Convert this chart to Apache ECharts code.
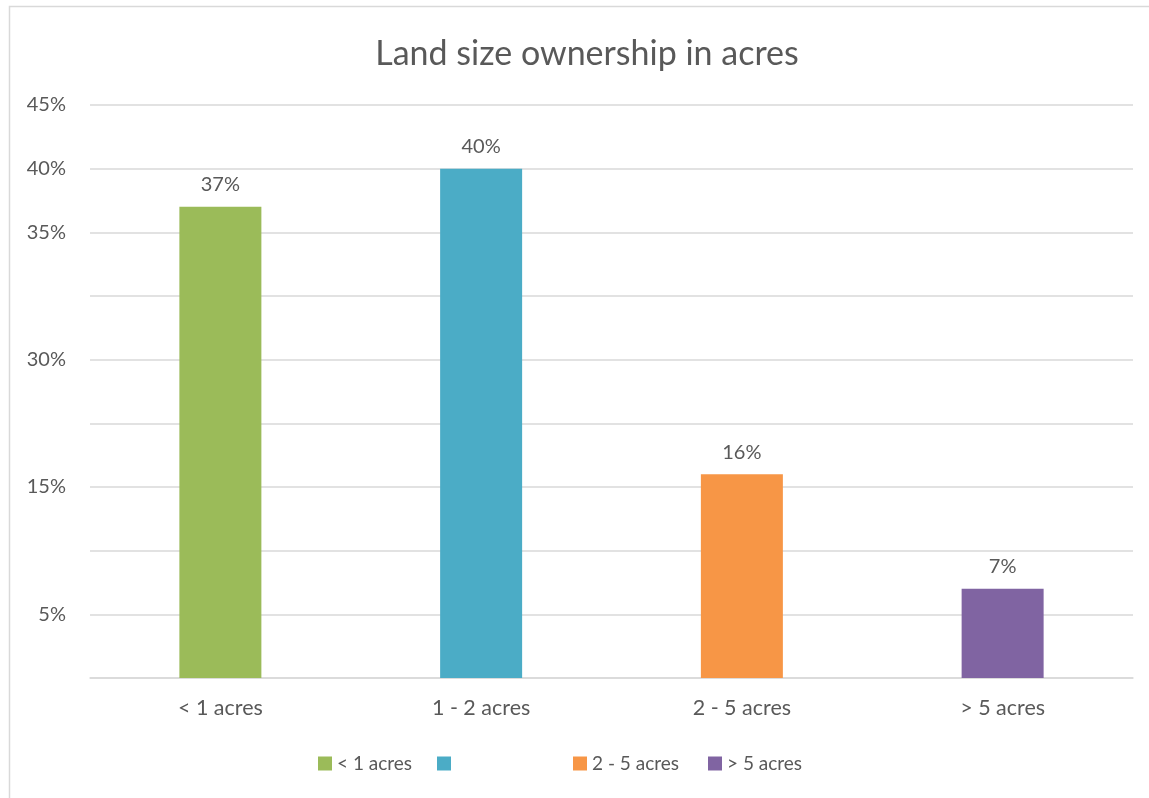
<!DOCTYPE html>
<html>
<head>
<meta charset="utf-8">
<script src="https://cdn.jsdelivr.net/npm/echarts@6/dist/echarts.min.js"></script>
<style>
  html, body { margin: 0; padding: 0; background: #ffffff; }
  #chart { width: 1149px; height: 798px; }
</style>
</head>
<body>
<div id="chart"></div>
<script>
// Land size groups and the share of owners in each
const categories = ['< 1 acres', '1 - 2 acres', '2 - 5 acres', '> 5 acres'];
const shares = [37, 40, 16, 7];
const legendNames = ['< 1 acres', ' ', '2 - 5 acres', '> 5 acres'];
const barColors = ['#9bbb59', '#4bacc6', '#f79646', '#8064a2'];
// Labels printed on the value axis, one per 5% step from 0 to 45
const yTickLabels = ['', '5%', '', '15%', '', '30%', '', '35%', '40%', '45%'];

const FONT = 'Lato, "Open Sans", sans-serif';
const TEXT = '#595959';
const GRID = '#d9d9d9';

const chart = echarts.init(document.getElementById('chart'), null, { renderer: 'canvas' });

// One series per group so each group gets its own legend entry; stacking keeps bars centred
const series = categories.map((cat, i) => ({
  name: legendNames[i],
  type: 'bar',
  stack: 'all',
  barWidth: 82,
  itemStyle: { color: barColors[i] },
  data: categories.map((c, j) => (j === i ? shares[i] : null)),
  label: {
    show: true,
    position: 'top',
    distance: 12,
    formatter: '{c}%',
    color: TEXT,
    fontFamily: FONT,
    fontSize: 20
  }
}));

const legendLefts = [318, 437, 573, 708];
const legends = legendNames.map((n, i) => ({
  data: [n],
  left: legendLefts[i],
  top: 754,
  padding: 0,
  itemWidth: 14,
  itemHeight: 14,
  itemGap: 0,
  icon: 'rect',
  textStyle: { color: TEXT, fontFamily: FONT, fontSize: 19 },
  selectedMode: false
}));

chart.setOption({
  animation: false,
  backgroundColor: '#ffffff',
  title: {
    text: 'Land size ownership in acres',
    left: 582,
    top: 32,
    textAlign: 'center',
    textStyle: { color: TEXT, fontFamily: FONT, fontSize: 34, fontWeight: 'normal' }
  },
  graphic: [{
    type: 'rect',
    shape: { x: 9.5, y: 6.5, width: 1200, height: 900 },
    style: { fill: 'none', stroke: GRID, lineWidth: 1.5 },
    silent: true
  }],
  legend: legends,
  grid: { left: 90, right: 16, top: 105, bottom: 120 },
  xAxis: {
    type: 'category',
    data: categories,
    axisLine: { lineStyle: { color: GRID, width: 1.5 } },
    axisTick: { show: false },
    axisLabel: { color: TEXT, fontFamily: FONT, fontSize: 21.5, margin: 19 }
  },
  yAxis: {
    type: 'value',
    min: 0,
    max: 45,
    interval: 5,
    axisLine: { show: false },
    axisTick: { show: false },
    splitLine: { lineStyle: { color: GRID, width: 1.5 } },
    axisLabel: {
      color: TEXT,
      fontFamily: FONT,
      fontSize: 20,
      margin: 24,
      formatter: v => yTickLabels[Math.round(v / 5)]
    }
  },
  series: series
});
</script>
</body>
</html>
